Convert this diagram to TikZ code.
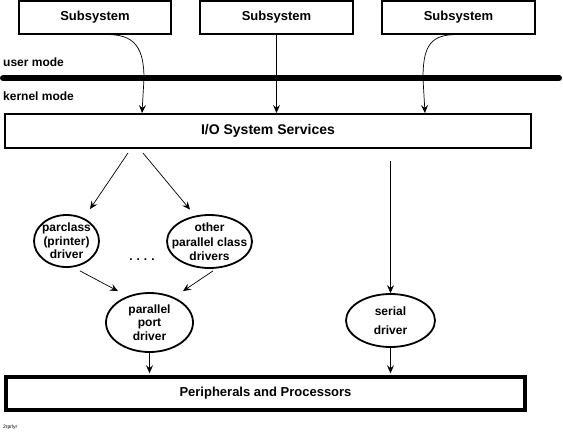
\documentclass[tikz,border=0pt]{standalone}
\usepackage{fontspec}
\setsansfont{Liberation Sans}
\usetikzlibrary{arrows.meta, positioning, shapes.geometric}

\begin{document}
\begin{tikzpicture}[
    x=1pt, y=-1pt,
    every node/.style={font=\sffamily\bfseries\fontsize{12}{13.5}\selectfont},
    subsys/.style={draw, line width=1.3pt, minimum width=152pt, minimum height=33pt, font=\sffamily\bfseries\fontsize{13}{15}\selectfont},
    layer/.style={draw, minimum height=34pt},
    driver/.style={draw, ellipse, line width=1.8pt, inner sep=0pt},
    modelabel/.style={anchor=west, inner sep=0pt},
    arrow/.style={-{Stealth[length=8pt, width=7pt, inset=3pt]}, line width=0.7pt},
]
\useasboundingbox (0,0) rectangle (563,432);

% User mode subsystems
\node[subsys] (sub1) at (95,17.5) {Subsystem};
\node[subsys, minimum width=153pt] (sub2) at (276.5,17.5) {Subsystem};
\node[subsys, minimum width=153pt] (sub3) at (458.5,17.5) {Subsystem};

% Mode boundary
\node[modelabel] (user) at (3,62) {user mode};
\draw[line width=6pt, line cap=round] (3,78) -- (559,78);
\node[modelabel] (kernel) at (3,96) {kernel mode};

% Layers
\node[layer, line width=2pt, minimum width=526pt, font=\sffamily\bfseries\fontsize{14}{16}\selectfont] (io) at (268,131) {I/O System Services};
\node[layer, line width=3.5pt, minimum width=519pt, minimum height=33pt, font=\sffamily\bfseries\fontsize{13}{15}\selectfont] (periph) at (265.5,393.5) {Peripherals and Processors};

% Drivers
\node[driver, minimum width=65pt, minimum height=52pt, label={[align=center]center:parclass\\(printer)\\driver}] (parclass) at (66.5,241) {};
\node[driver, minimum width=85pt, minimum height=53pt, label={[align=center]center:other\\[2pt]parallel class\\drivers}] (other) at (209.5,241.5) {};
\node[driver, minimum width=87pt, minimum height=59pt, label={[align=center]center:parallel\\port\\driver}] (ppd) at (149.5,322.5) {};
\node[driver, minimum width=89pt, minimum height=53pt, label={[align=center]center:serial\\[5pt]driver}] (serial) at (390.5,320.5) {};
\node (dots) at (142,260) {.\,\,.\,\,.\,\,.};

% Calls into kernel mode
\draw[arrow] ([xshift=16pt]sub1.south) .. controls +(24,1) and +(0,-30) .. ++(33,44) -- ([xshift=-126pt]io.north);
\draw[arrow] (sub2.south) -- (sub2.south |- io.north);
\draw[arrow] ([xshift=-5.5pt]sub3.south) .. controls +(-24,1) and +(0,-30) .. ++(-30,44) -- ([xshift=157pt]io.north);

% I/O system to drivers
\draw[arrow] (io.south) ++(-140,4) -- ([xshift=23.5pt,yshift=5pt]parclass.north);
\draw[arrow] (io.south) ++(-125,4) -- ([xshift=-19.5pt,yshift=4.5pt]other.north);
\draw[arrow] (serial.north |- io.south) ++(0,12) -- (serial.north);

% Class drivers to port driver
\draw[arrow] (parclass.south) ++(13.5,3) -- ([xshift=-31.5pt,yshift=1pt]ppd.north);
\draw[arrow] (other.south) ++(3.5,2) -- ([xshift=33.5pt,yshift=1pt]ppd.north);

% Drivers to hardware
\draw[arrow, shorten >=2pt] (ppd.south) -- (ppd.south |- periph.north);
\draw[arrow, shorten >=2pt] (serial.south) -- (serial.south |- periph.north);

\node[anchor=west, inner sep=0pt, font=\sffamily\fontsize{5}{6}\selectfont] (tag) at (3,427) {2rprlyr};

\end{tikzpicture}
\end{document}
